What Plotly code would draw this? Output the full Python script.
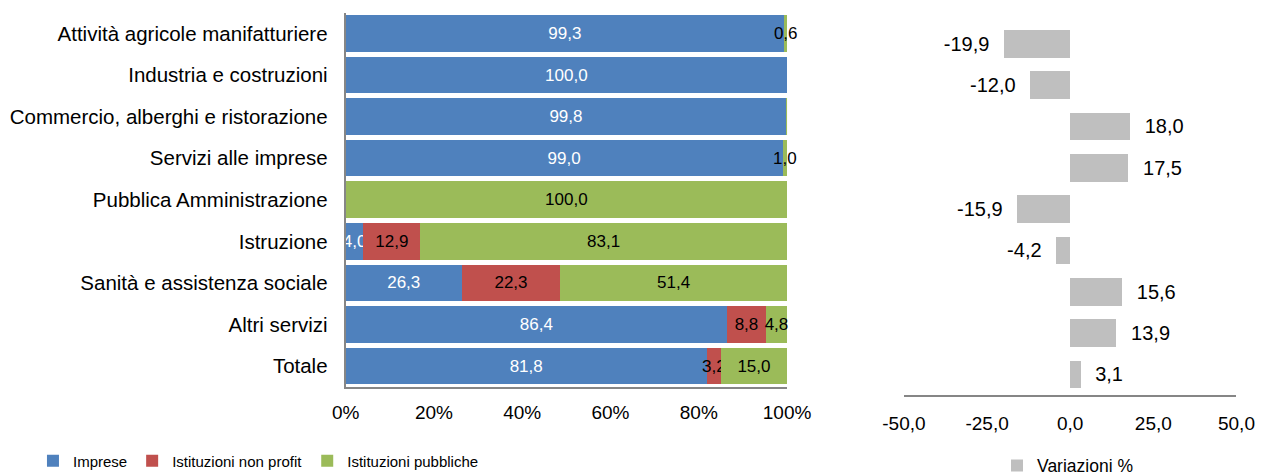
import plotly.graph_objects as go

categories = [
    "Attività agricole manifatturiere",
    "Industria e costruzioni",
    "Commercio, alberghi e ristorazione",
    "Servizi alle imprese",
    "Pubblica Amministrazione",
    "Istruzione",
    "Sanità e assistenza sociale",
    "Altri servizi",
    "Totale",
]
imprese = [99.3, 100.0, 99.8, 99.0, 0.0, 4.0, 26.3, 86.4, 81.8]
non_profit = [0.1, 0.0, 0.0, 0.0, 0.0, 12.9, 22.3, 8.8, 3.2]
pubbliche = [0.6, 0.0, 0.2, 1.0, 100.0, 83.1, 51.4, 4.8, 15.0]
variazioni = [-19.9, -12.0, 18.0, 17.5, -15.9, -4.2, 15.6, 13.9, 3.1]
pct_ticks = [0, 20, 40, 60, 80, 100]
pct_labels = ["0%", "20%", "40%", "60%", "80%", "100%"]
var_ticks = [-50, -25, 0, 25, 50]
var_labels = ["-50,0", "-25,0", "0,0", "25,0", "50,0"]

FONT = "Liberation Sans, Arial, sans-serif"


def fmt(v):
    return f"{v:.1f}".replace(".", ",")


def lab(vals):
    return [fmt(v) if v >= 0.5 else "" for v in vals]


def var_lab(vals):
    pad = "\u2002\u200a"
    return [(pad + fmt(v)) if v >= 0 else (fmt(v) + pad) for v in vals]


fig = go.Figure()

series = [
    ("Imprese", imprese, "#4F81BD", "white"),
    ("Istituzioni non profit", non_profit, "#C0504D", "black"),
    ("Istituzioni pubbliche", pubbliche, "#9BBB59", "black"),
]
for name, vals, col, tcol in series:
    fig.add_trace(go.Bar(
        y=categories, x=vals, orientation="h", name=name,
        marker=dict(color=col, line=dict(width=0)),
        text=lab(vals), textposition="inside", insidetextanchor="middle",
        textangle=0, constraintext="none",
        textfont=dict(color=tcol, size=17, family=FONT),
        cliponaxis=False, xaxis="x", yaxis="y", legend="legend",
        hoverinfo="x+y+name",
    ))

fig.add_trace(go.Bar(
    y=categories, x=variazioni, orientation="h", name="Variazioni %",
    marker=dict(color="#BFBFBF", line=dict(width=0)), width=0.67,
    text=var_lab(variazioni), textposition="outside", textangle=0,
    constraintext="none",
    textfont=dict(color="black", size=20, family=FONT),
    cliponaxis=False, xaxis="x2", yaxis="y2", legend="legend2",
))

axis_line = "#868686"
fig.update_layout(
    width=1261, height=467,
    margin=dict(l=0, r=0, t=0, b=0, autoexpand=False),
    paper_bgcolor="white", plot_bgcolor="white",
    font=dict(family=FONT, size=18, color="black"),
    separators=",.",
    barmode="stack", bargap=0.12,
    showlegend=True,
    xaxis=dict(
        domain=[0.2678, 0.6178], range=[0, 100],
        tickmode="array", tickvals=pct_ticks, ticktext=pct_labels,
        showgrid=False, zeroline=False,
        showline=True, linecolor=axis_line, linewidth=2,
        ticks="outside", ticklen=7, tickcolor="rgba(0,0,0,0)",
        anchor="y", automargin=False, tickfont=dict(size=19),
    ),
    yaxis=dict(
        domain=[0.1889, 0.9899], autorange="reversed",
        showgrid=False, zeroline=False,
        showline=True, linecolor=axis_line, linewidth=2,
        ticks="", ticklabelstandoff=12, anchor="x", automargin=False,
        tickfont=dict(size=20.5),
    ),
    xaxis2=dict(
        domain=[0.7105, 0.9742], range=[-50, 50],
        tickmode="array", tickvals=var_ticks, ticktext=var_labels,
        showgrid=False, zeroline=False,
        showline=True, linecolor=axis_line, linewidth=2,
        ticks="outside", ticklen=10, tickcolor="rgba(0,0,0,0)",
        anchor="y2", automargin=False, tickfont=dict(size=19),
    ),
    yaxis2=dict(
        domain=[0.1713, 0.9675], autorange="reversed",
        showgrid=False, zeroline=False, showline=False,
        showticklabels=False, ticks="", anchor="x2", automargin=False,
    ),
    legend=dict(
        orientation="h", x=0.0198, y=0.030, xanchor="left", yanchor="middle",
        font=dict(size=15), bgcolor="rgba(0,0,0,0)", traceorder="normal",
    ),
    legend2=dict(
        orientation="h", x=0.7843, y=0.020, xanchor="left", yanchor="middle",
        font=dict(size=17.5), bgcolor="rgba(0,0,0,0)",
    ),
)

fig.write_html("out.html")
